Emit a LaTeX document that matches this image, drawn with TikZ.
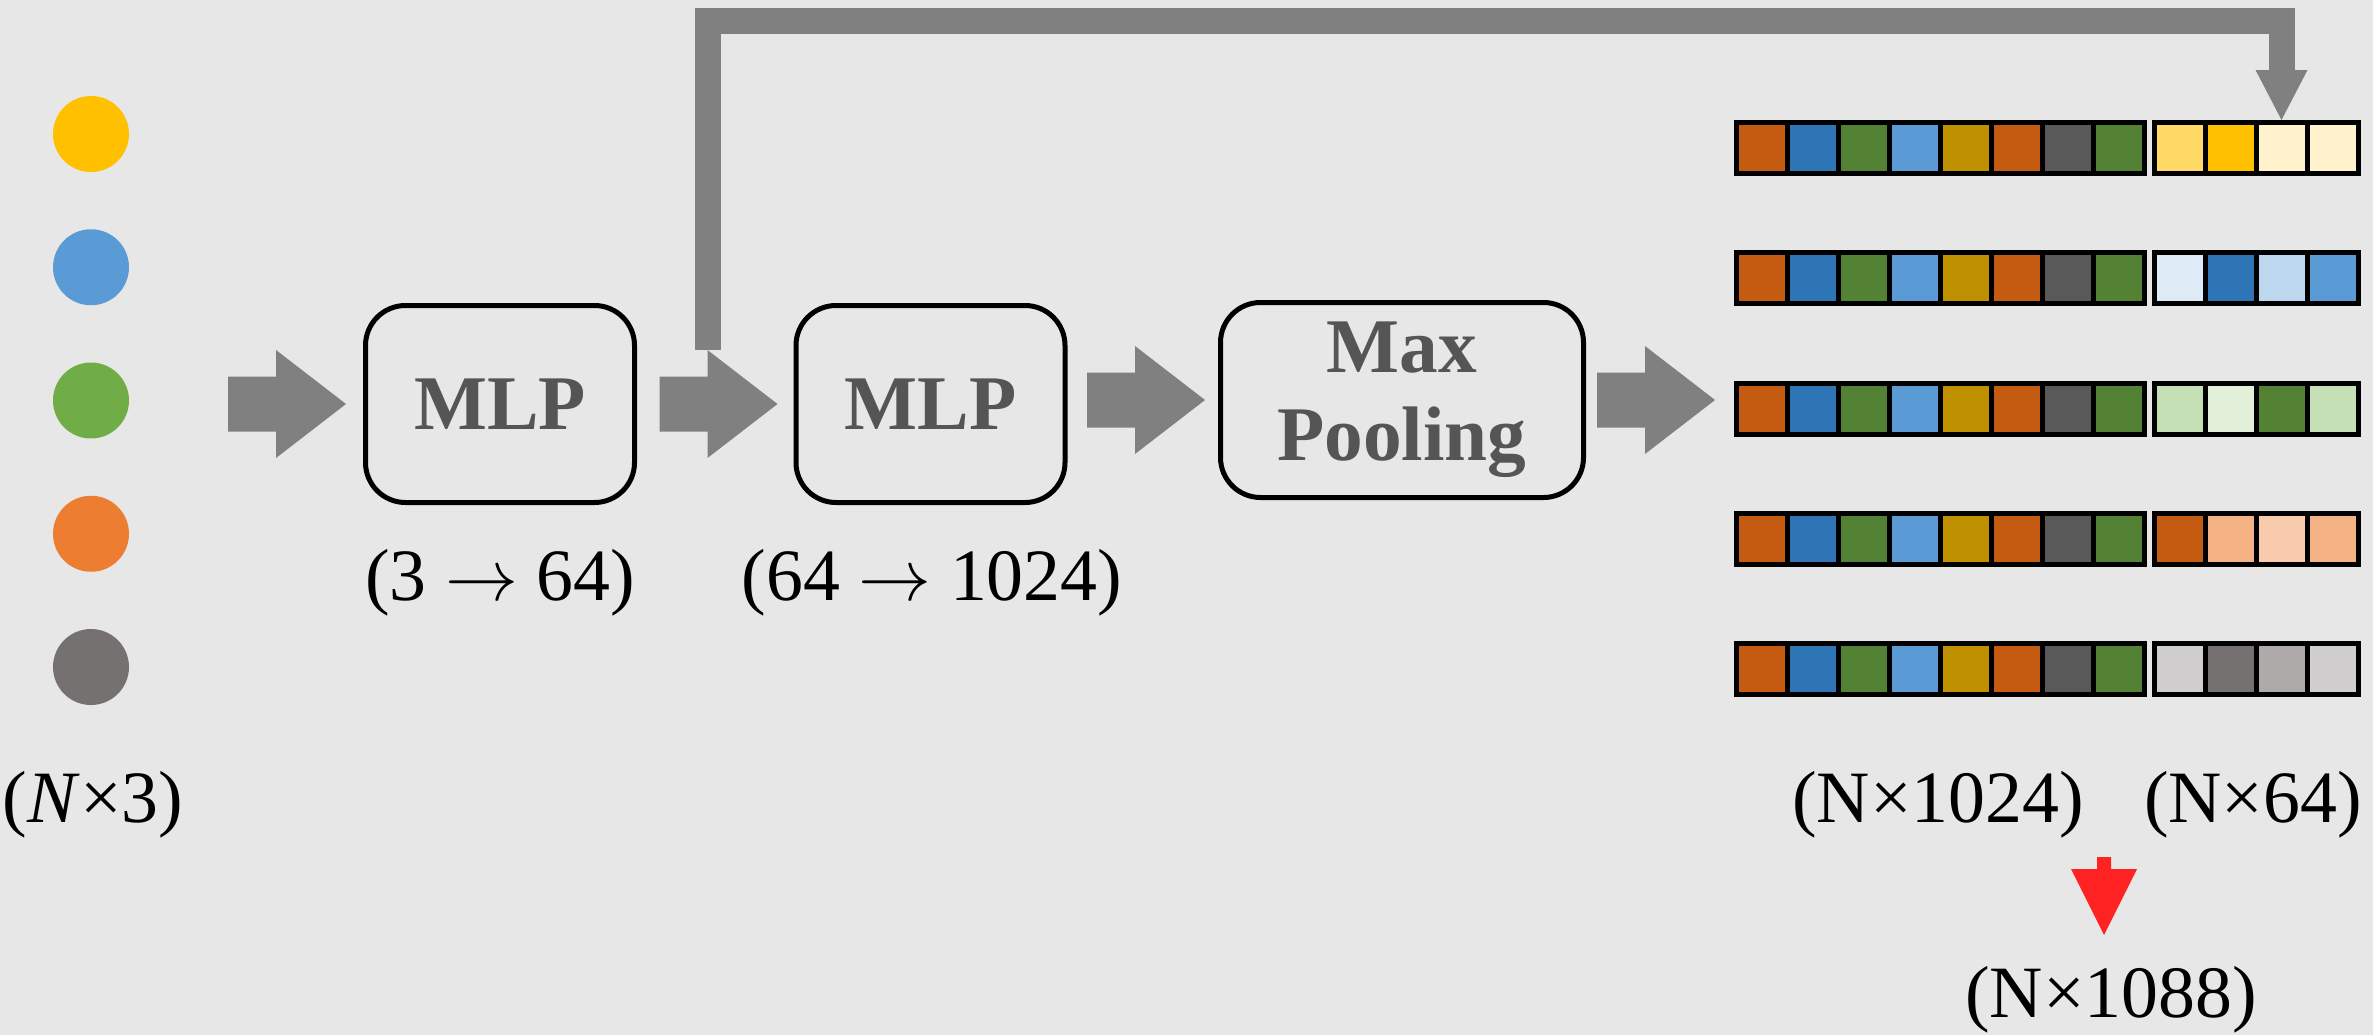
\documentclass[tikz,border=0pt]{standalone}
\usepackage{fontspec}
\setmainfont{Liberation Serif}
\usetikzlibrary{calc}
\definecolor{bgGray}{HTML}{E7E7E7}
\definecolor{arrowGray}{HTML}{808080}
\definecolor{textGray}{HTML}{555555}
\definecolor{mergeRed}{HTML}{FF2222}
% input points
\definecolor{ptYellow}{HTML}{FFC000}
\definecolor{ptBlue}{HTML}{5B9BD5}
\definecolor{ptGreen}{HTML}{70AD47}
\definecolor{ptOrange}{HTML}{ED7D31}
\definecolor{ptGray}{HTML}{767171}
% global feature cells
\definecolor{cOr}{HTML}{C55A11}
\definecolor{cBl}{HTML}{2E75B6}
\definecolor{cGr}{HTML}{548235}
\definecolor{cLb}{HTML}{5B9BD5}
\definecolor{cGo}{HTML}{BF9000}
\definecolor{cDk}{HTML}{595959}
% local feature cells
\definecolor{yA}{HTML}{FFD966}
\definecolor{yB}{HTML}{FFC000}
\definecolor{yC}{HTML}{FFF2CC}
\definecolor{bA}{HTML}{DEEBF7}
\definecolor{bB}{HTML}{2E75B6}
\definecolor{bC}{HTML}{BDD7EE}
\definecolor{bD}{HTML}{5B9BD5}
\definecolor{gA}{HTML}{C5E0B4}
\definecolor{gB}{HTML}{E2F0D9}
\definecolor{gC}{HTML}{548235}
\definecolor{oA}{HTML}{C55A11}
\definecolor{oB}{HTML}{F4B183}
\definecolor{oC}{HTML}{F8CBAD}
\definecolor{kA}{HTML}{D0CECE}
\definecolor{kB}{HTML}{767171}
\definecolor{kC}{HTML}{AEAAAA}
\def\blockarrow(#1){\fill[arrowGray, shift={(#1)}] (0,0) -- (-0.70,0.54) -- (-0.70,0.275) -- (-1.18,0.275) -- (-1.18,-0.275) -- (-0.70,-0.275) -- (-0.70,-0.54) -- cycle;}

\begin{document}
\begin{tikzpicture}[
		stage/.style={draw, line width=0.05cm, rounded corners=0.4cm, minimum width=2.69cm, minimum height=1.97cm, text=textGray, font=\fontsize{22}{25}\selectfont\bfseries, align=center},
		dim/.style={font=\fontsize{21}{25}\selectfont, anchor=base, inner sep=0},
		cell/.style={draw=black, line width=0.05cm, minimum size=0.51cm, inner sep=0},
		point/.style={circle, minimum size=0.76cm, inner sep=0}
	]
			%%%%% START %%%%%
			
			\useasboundingbox (0,0) rectangle (23.73,10.35);
			\fill[bgGray] (0,0) rectangle (23.73,10.35);
			
			% input points
			\foreach \c [count=\i] in {ptYellow,ptBlue,ptGreen,ptOrange,ptGray}
				\node[point, fill=\c] (pt\i) at (0.91, {9.01-1.3325*(\i-1)}) {};
			\node[dim] (dimIn) at (0.93, 2.13) {(\textit{N}×3)};
			
			% stages
			\node[stage] (mlpA) at (5.00, 6.31) {MLP};
			\node[stage] (mlpB) at (9.305, 6.31) {MLP};
			\node[stage, minimum width=3.63cm, minimum height=1.95cm] (pool) at (14.02, 6.35) {Max\\Pooling};
			\node[dim] (dimA) at (5.00, 4.35) {(3 $\rightarrow$ 64)};
			\node[dim] (dimB) at (9.32, 4.35) {(64 $\rightarrow$ 1024)};
			
			% feature rows
			\foreach \r/\fa/\fb/\fc/\fd in {1/yA/yB/yC/yC, 2/bA/bB/bC/bD, 3/gA/gB/gC/gA, 4/oA/oB/oC/oB, 5/kA/kB/kC/kA}{
				\foreach \c [count=\i] in {cOr,cBl,cGr,cLb,cGo,cOr,cDk,cGr}
					\node[cell, fill=\c] (l-\r-\i) at ({17.62+0.51*(\i-1)}, {8.87-1.3025*(\r-1)}) {};
				\foreach \c [count=\j] in {\fa,\fb,\fc,\fd}
					\node[cell, fill=\c] (r-\r-\j) at ({21.795+0.51*(\j-1)}, {8.87-1.3025*(\r-1)}) {};
			}
			\node[dim] (dimL) at (19.38, 2.13) {(N×1024)};
			\node[dim] (dimR) at (22.53, 2.13) {(N×64)};
			\node[dim] (dimOut) at (21.11, 0.18) {(N×1088)};
			
			% block arrows
			\coordinate (inA) at ($(mlpA.west)+(-0.17,0)$);
			\coordinate (inB) at ($(mlpB.west)+(-0.16,0)$);
			\coordinate (inC) at ($(pool.west)+(-0.13,0)$);
			\coordinate (inD) at ($(pool.east)+(1.29,0)$);
			\blockarrow(inA)
			\blockarrow(inB)
			\blockarrow(inC)
			\blockarrow(inD)
			
			% skip connection
			\coordinate (skipA) at ($(inB)+(-0.70,0.545)$);
			\coordinate (skipTop) at ($(skipA)+(0,3.29)$);
			\coordinate (skipEnd) at ($(r-1-3.north)+(0,0.50)$);
			\draw[arrowGray, line width=0.26cm] (skipA) -- (skipTop) -| (skipEnd);
			\fill[arrowGray] ($(skipEnd)+(-0.26,0)$) -- ($(skipEnd)+(0.26,0)$) -- (r-1-3.north) -- cycle;
			
			% concat
			\coordinate (redTip) at (21.04, 1.00);
			\fill[mergeRed, shift={(redTip)}] (-0.07,0.78) -- (0.07,0.78) -- (0.07,0.66) -- (0.33,0.66) -- (0,0) -- (-0.33,0.66) -- (-0.07,0.66) -- cycle;
			
			%%%%% END %%%%%
\end{tikzpicture}
\end{document}
